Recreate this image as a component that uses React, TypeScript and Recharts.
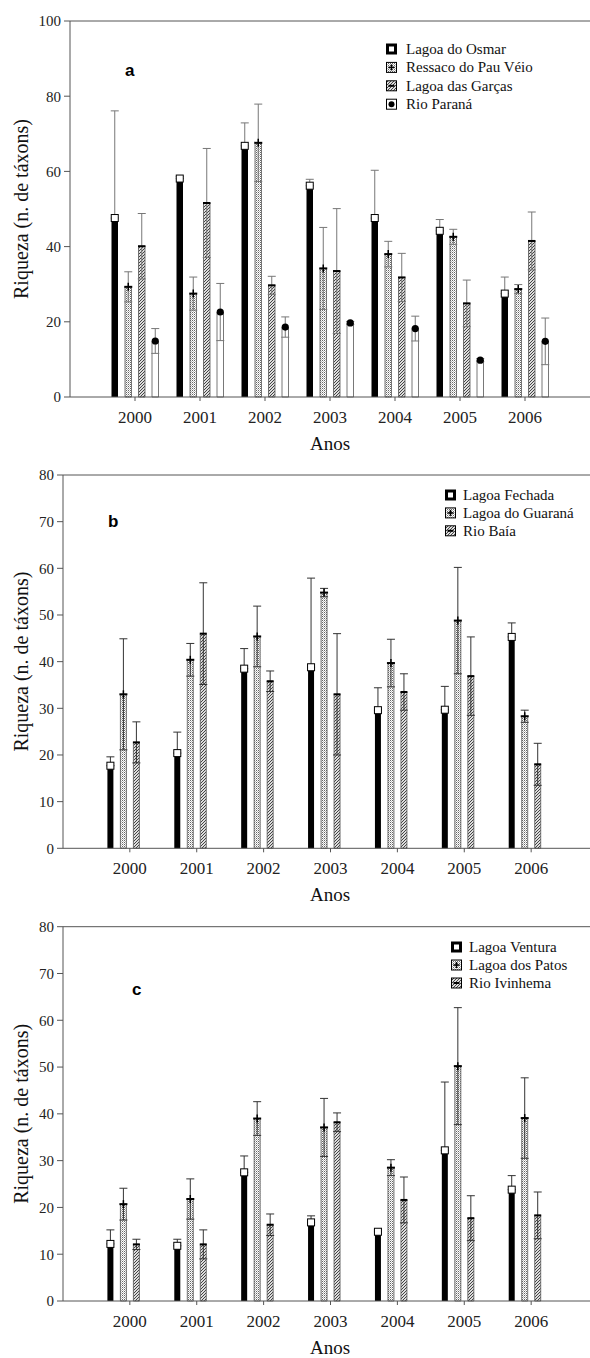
import React from "react"
import { BarChart, Bar, XAxis, YAxis, ErrorBar, LabelList, Legend, ReferenceLine } from "recharts"

const anos = ["2000", "2001", "2002", "2003", "2004", "2005", "2006"]

// painel a
const osmar = [47.6, 58.1, 66.8, 56.2, 47.6, 44.2, 27.5]
const osmarErro = [28.5, 0.5, 6.1, 1.7, 12.7, 3, 4.4]
const pauVeio = [29.3, 27.5, 67.6, 34.2, 38, 42.6, 28.7]
const pauVeioErro = [4, 4.4, 10.3, 10.9, 3.4, 2, 1.2]
const garcas = [40.1, 51.6, 29.7, 33.5, 31.8, 24.9, 41.5]
const garcasErro = [8.7, 14.5, 2.4, 16.6, 6.4, 6.2, 7.7]
const parana = [14.9, 22.6, 18.6, 19.7, 18.2, 9.8, 14.8]
const paranaErro = [3.3, 7.6, 2.7, 0.4, 3.3, 0.4, 6.2]

// painel b
const fechada = [17.7, 20.4, 38.5, 38.8, 29.6, 29.7, 45.3]
const fechadaErro = [1.9, 4.5, 4.3, 19.1, 4.8, 5, 3]
const guarana = [33, 40.4, 45.4, 54.8, 39.7, 48.8, 28.3]
const guaranaErro = [11.9, 3.5, 6.5, 0.9, 5.1, 11.4, 1.3]
const baia = [22.7, 46, 35.8, 33, 33.5, 36.9, 18]
const baiaErro = [4.4, 10.9, 2.2, 13, 3.9, 8.4, 4.5]

// painel c
const ventura = [12.2, 11.8, 27.5, 16.8, 14.8, 32.2, 23.8]
const venturaErro = [3, 1.4, 3.5, 1.4, 0.4, 14.6, 3]
const patos = [20.7, 21.8, 39, 37.1, 28.5, 50.2, 39.1]
const patosErro = [3.4, 4.3, 3.6, 6.2, 1.7, 12.5, 8.6]
const ivinhema = [12.1, 12.1, 16.3, 38.2, 21.6, 17.7, 18.3]
const ivinhemaErro = [1.1, 3.1, 2.3, 2, 4.9, 4.8, 5]

const ticksA = [0, 20, 40, 60, 80, 100]
const ticksBC = [0, 10, 20, 30, 40, 50, 60, 70, 80]

type Tipo = "quadrado" | "mais" | "menos" | "circulo"
type Serie = { chave: string; nome: string; valores: number[]; erros: number[]; tipo: Tipo }

const seriesA: Serie[] = [
  { chave: "osmar", nome: "Lagoa do Osmar", valores: osmar, erros: osmarErro, tipo: "quadrado" },
  { chave: "pauVeio", nome: "Ressaco do Pau Véio", valores: pauVeio, erros: pauVeioErro, tipo: "mais" },
  { chave: "garcas", nome: "Lagoa das Garças", valores: garcas, erros: garcasErro, tipo: "menos" },
  { chave: "parana", nome: "Rio Paraná", valores: parana, erros: paranaErro, tipo: "circulo" },
]
const seriesB: Serie[] = [
  { chave: "fechada", nome: "Lagoa Fechada", valores: fechada, erros: fechadaErro, tipo: "quadrado" },
  { chave: "guarana", nome: "Lagoa do Guaraná", valores: guarana, erros: guaranaErro, tipo: "mais" },
  { chave: "baia", nome: "Rio Baía", valores: baia, erros: baiaErro, tipo: "menos" },
]
const seriesC: Serie[] = [
  { chave: "ventura", nome: "Lagoa Ventura", valores: ventura, erros: venturaErro, tipo: "quadrado" },
  { chave: "patos", nome: "Lagoa dos Patos", valores: patos, erros: patosErro, tipo: "mais" },
  { chave: "ivinhema", nome: "Rio Ivinhema", valores: ivinhema, erros: ivinhemaErro, tipo: "menos" },
]

const serif = "'Liberation Serif', 'Times New Roman', serif"
const sans = "'Liberation Sans', Arial, sans-serif"

function montarDados(series: Serie[]) {
  return anos.map((ano, i) => {
    const linha: Record<string, string | number> = { ano }
    series.forEach((s) => {
      linha[s.chave] = s.valores[i]
      linha[s.chave + "Erro"] = s.erros[i]
    })
    return linha
  })
}

function preenchimento(tipo: Tipo, id: string) {
  if (tipo === "quadrado") return "#000"
  if (tipo === "mais") return `url(#pontos-${id})`
  if (tipo === "menos") return `url(#hachura-${id})`
  return "#fff"
}

// símbolo desenhado no topo de cada barra
function marcador(tipo: Tipo) {
  return (p: any) => {
    const vb = p.viewBox ?? p
    const x = Number(vb.x)
    const w = Number(vb.width)
    const y = Number(vb.y)
    if (!isFinite(x) || !isFinite(y) || !isFinite(w)) return null
    const cx = x + w / 2
    if (tipo === "quadrado")
      return <rect x={cx - 3.5} y={y - 3.5} width={7} height={7} fill="#fff" stroke="#000" strokeWidth={1} />
    if (tipo === "mais")
      return (
        <g stroke="#000">
          <line x1={cx - 4} x2={cx + 4} y1={y} y2={y} strokeWidth={2} />
          <line x1={cx} x2={cx} y1={y - 4} y2={y + 4} strokeWidth={1.5} />
        </g>
      )
    if (tipo === "menos")
      return <line x1={x - 0.5} x2={x + w + 0.5} y1={y} y2={y} stroke="#000" strokeWidth={2} />
    return <circle cx={cx} cy={y} r={3.6} fill="#000" />
  }
}

function Icone({ tipo, id, cy }: { tipo: Tipo; id: string; cy: number }) {
  const cx = 5.5
  return (
    <g>
      <rect x={0.5} y={cy - 5} width={10} height={10} fill={preenchimento(tipo, id)} stroke="#000" />
      {tipo === "quadrado" && <rect x={cx - 2.5} y={cy - 2.5} width={5} height={5} fill="#fff" />}
      {tipo === "mais" && (
        <g stroke="#000" strokeWidth={1.5}>
          <line x1={cx - 3} x2={cx + 3} y1={cy} y2={cy} />
          <line x1={cx} x2={cx} y1={cy - 3} y2={cy + 3} />
        </g>
      )}
      {tipo === "menos" && <line x1={cx - 3} x2={cx + 3} y1={cy} y2={cy} stroke="#000" strokeWidth={2} />}
      {tipo === "circulo" && <circle cx={cx} cy={cy} r={3} fill="#000" />}
    </g>
  )
}

function Legenda({ series, id, linha, textoX }: { series: Serie[]; id: string; linha: number; textoX: number }) {
  return (
    <svg width={200} height={series.length * linha + 4} style={{ display: "block", overflow: "visible" }}>
      {series.map((s, i) => {
        const cy = 8 + i * linha
        return (
          <g key={s.chave}>
            <Icone tipo={s.tipo} id={id} cy={cy} />
            <text x={textoX} y={cy + 5} fontSize={15} fontFamily={serif} fill="#111">
              {s.nome}
            </text>
          </g>
        )
      })}
    </svg>
  )
}

type PainelProps = {
  id: string
  series: Serie[]
  slots: number
  topo: number
  altura: number
  largura: number
  eixoY: number
  topoPlot: number
  alturaPlot: number
  yMax: number
  yTicks: number[]
  padX: number
  barSize: number
  barGap: number
  legenda: { x: number; y: number; textoX: number; linha: number }
  letra: { x: number; y: number }
  corErro: string
}

function Painel(p: PainelProps) {
  const dados = montarDados(p.series)
  const baseEixo = p.topoPlot + p.alturaPlot
  const vazios = Array.from({ length: p.slots - p.series.length }, (_, i) => `vazio${i}`)
  return (
    <div style={{ position: "absolute", left: 0, top: p.topo }}>
      <BarChart
        width={p.largura}
        height={p.altura}
        data={dados}
        margin={{ top: p.topoPlot, right: 0, left: 0, bottom: 0 }}
        barSize={p.barSize}
        barGap={p.barGap}
      >
        <defs>
          <pattern id={`pontos-${p.id}`} width={2} height={2} patternUnits="userSpaceOnUse">
            <rect width={2} height={2} fill="#fff" />
            <rect x={0} y={0} width={1} height={1} fill="#666" />
            <rect x={1} y={1} width={1} height={1} fill="#bbb" />
          </pattern>
          <pattern id={`hachura-${p.id}`} width={3} height={3} patternUnits="userSpaceOnUse">
            <rect width={3} height={3} fill="#ddd" />
            <path d="M0,3 L3,0 M-1,1 L1,-1 M2,4 L4,2" stroke="#444" strokeWidth={1} />
          </pattern>
        </defs>
        <XAxis
          dataKey="ano"
          height={p.altura - baseEixo}
          interval={0}
          padding={{ left: p.padX, right: p.padX }}
          tickSize={4}
          tickMargin={10}
          axisLine={{ stroke: "#555" }}
          tickLine={{ stroke: "#555" }}
          tick={{ fontSize: 17, fontFamily: serif, fill: "#222" }}
        />
        <YAxis
          type="number"
          width={p.eixoY}
          domain={[0, p.yMax]}
          ticks={p.yTicks}
          interval={0}
          tickSize={6}
          tickMargin={3}
          axisLine={{ stroke: "#555" }}
          tickLine={{ stroke: "#555" }}
          tick={{ fontSize: 15, fontFamily: serif, fill: "#222" }}
        />
        <ReferenceLine y={p.yMax} stroke="#555" />
        {p.series.map((s) => {
          const chaveErro = s.chave + "Erro"
          // na barra preta o trecho inferior do erro não aparece
          const erro = s.tipo === "quadrado" ? (d: any) => [0, d[chaveErro]] : chaveErro
          return (
            <Bar
              key={s.chave}
              dataKey={s.chave}
              fill={preenchimento(s.tipo, p.id)}
              stroke={s.tipo === "quadrado" ? "none" : "#555"}
              strokeWidth={0.8}
              isAnimationActive={false}
            >
              <ErrorBar dataKey={erro} width={4} stroke={p.corErro} strokeWidth={1} />
              <LabelList dataKey={s.chave} content={marcador(s.tipo)} />
            </Bar>
          )
        })}
        {vazios.map((k) => (
          <Bar key={k} dataKey={k} fill="none" isAnimationActive={false} />
        ))}
        <Legend
          layout="vertical"
          align="center"
          verticalAlign="middle"
          wrapperStyle={{ left: p.legenda.x - 1, top: p.legenda.y - 8, width: 200 }}
          content={() => (
            <Legenda series={p.series} id={p.id} linha={p.legenda.linha} textoX={p.legenda.textoX - p.legenda.x + 1} />
          )}
        />
        <text x={p.letra.x} y={p.letra.y} fontSize={17} fontWeight="bold" fontFamily={sans} fill="#000">
          {p.id}
        </text>
        <text
          transform={`translate(21, ${p.topoPlot + p.alturaPlot / 2}) rotate(-90)`}
          textAnchor="middle"
          dominantBaseline="central"
          fontSize={20}
          fontFamily={serif}
          fill="#111"
        >
          Riqueza (n. de táxons)
        </text>
        <text x={330} y={baseEixo + 53} textAnchor="middle" fontSize={19} fontFamily={serif} fill="#111">
          Anos
        </text>
      </BarChart>
    </div>
  )
}

export default function App() {
  return (
    <div
      style={{
        position: "absolute",
        left: 0,
        top: 0,
        width: 590,
        height: 1358,
        overflow: "hidden",
        background: "#fff",
      }}
    >
      <Painel
        id="a"
        series={seriesA}
        slots={4}
        topo={0}
        altura={470}
        largura={590}
        eixoY={70}
        topoPlot={21}
        alturaPlot={376}
        yMax={100}
        yTicks={ticksA}
        padX={32.5}
        barSize={6.5}
        barGap={7}
        legenda={{ x: 387, y: 49, textoX: 406, linha: 18.4 }}
        letra={{ x: 125, y: 76 }}
        corErro="#777"
      />
      <Painel
        id="b"
        series={seriesB}
        slots={4}
        topo={450}
        altura={475}
        largura={598}
        eixoY={63}
        topoPlot={25}
        alturaPlot={373.3}
        yMax={80}
        yTicks={ticksBC}
        padX={33.4}
        barSize={6}
        barGap={7}
        legenda={{ x: 446, y: 45, textoX: 463, linha: 17.9 }}
        letra={{ x: 108, y: 77 }}
        corErro="#333"
      />
      <Painel
        id="c"
        series={seriesC}
        slots={4}
        topo={905}
        altura={453}
        largura={598}
        eixoY={63}
        topoPlot={21.7}
        alturaPlot={374.3}
        yMax={80}
        yTicks={ticksBC}
        padX={33.4}
        barSize={6}
        barGap={7}
        legenda={{ x: 452, y: 42, textoX: 469, linha: 18 }}
        letra={{ x: 132, y: 90 }}
        corErro="#333"
      />
    </div>
  )
}
